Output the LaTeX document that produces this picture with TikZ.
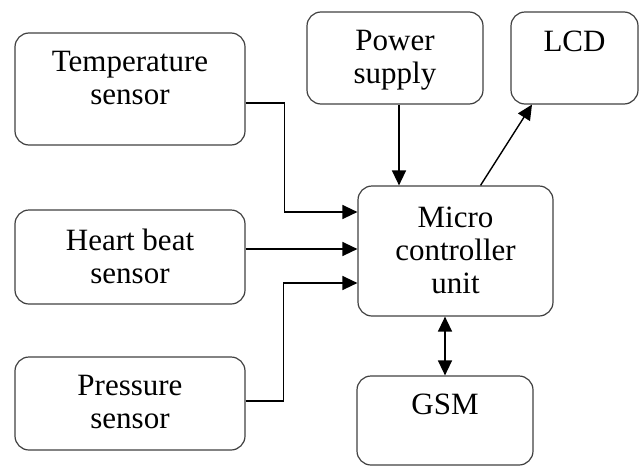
\documentclass[tikz,border=0pt]{standalone}
\usepackage{fontspec}
\setmainfont{Liberation Serif}
\usepackage{xcolor}
\definecolor{edge}{HTML}{404040}
\usepackage{tikz}
\usetikzlibrary{arrows.meta}

\begin{document}
\begin{tikzpicture}[x=1pt,y=-1pt,
  unit/.style={draw=edge,line width=1.2pt,rounded corners=14pt,rectangle,inner sep=0pt},
  txt/.style={anchor=north,align=center,inner sep=0pt,yshift=-19pt,
    font=\fontsize{31}{33}\selectfont},
  wire/.style={line width=1.4pt,black},
  tip/.style={wire,-{Triangle[length=15pt,width=14pt]}},
  tips/.style={wire,{Triangle[length=15pt,width=14pt]}-{Triangle[length=15pt,width=14pt]}}]
\useasboundingbox (0,0) rectangle (644,466);
\node[unit,minimum width=230pt,minimum height=112pt,label={[txt]north:{Temperature\\sensor}}] (temp) at (130,89) {};
\node[unit,minimum width=230pt,minimum height=94pt,label={[txt]north:{Heart beat\\sensor}}] (heart) at (130,257) {};
\node[unit,minimum width=230pt,minimum height=93pt,label={[txt]north:{Pressure\\sensor}}] (press) at (130,403.5) {};
\node[unit,minimum width=176pt,minimum height=92pt,label={[txt]north:{Power\\supply}}] (power) at (395,58) {};
\node[unit,minimum width=127pt,minimum height=92pt,label={[txt]north:{LCD}}] (lcd) at (574.5,58) {};
\node[unit,minimum width=195pt,minimum height=130pt,label={[txt,yshift=-2pt]north:{Micro\\controller\\unit}}] (mcu) at (455.5,251) {};
\node[unit,minimum width=176pt,minimum height=89pt,label={[txt,yshift=1pt]north:{GSM}}] (gsm) at (445,420.5) {};
\draw[tip] ([yshift=-14pt]temp.east) -| ([xshift=-73pt,yshift=39pt]mcu.west) -- ([yshift=39pt]mcu.west);
\draw[tip] ([yshift=8pt]heart.east) -- ([yshift=2pt]mcu.west);
\draw[tip] ([yshift=2.5pt]press.east) -| ([xshift=-74pt,yshift=-32pt]mcu.west) -- ([yshift=-32pt]mcu.west);
\draw[tip] ([xshift=4pt]power.south) -- ([xshift=4pt]power.south |- mcu.north);
\draw[tip] ([xshift=25pt]mcu.north) -- ([xshift=-42.5pt]lcd.south);
\draw[tips] (gsm.north |- mcu.south) -- (gsm.north);
\end{tikzpicture}
\end{document}
